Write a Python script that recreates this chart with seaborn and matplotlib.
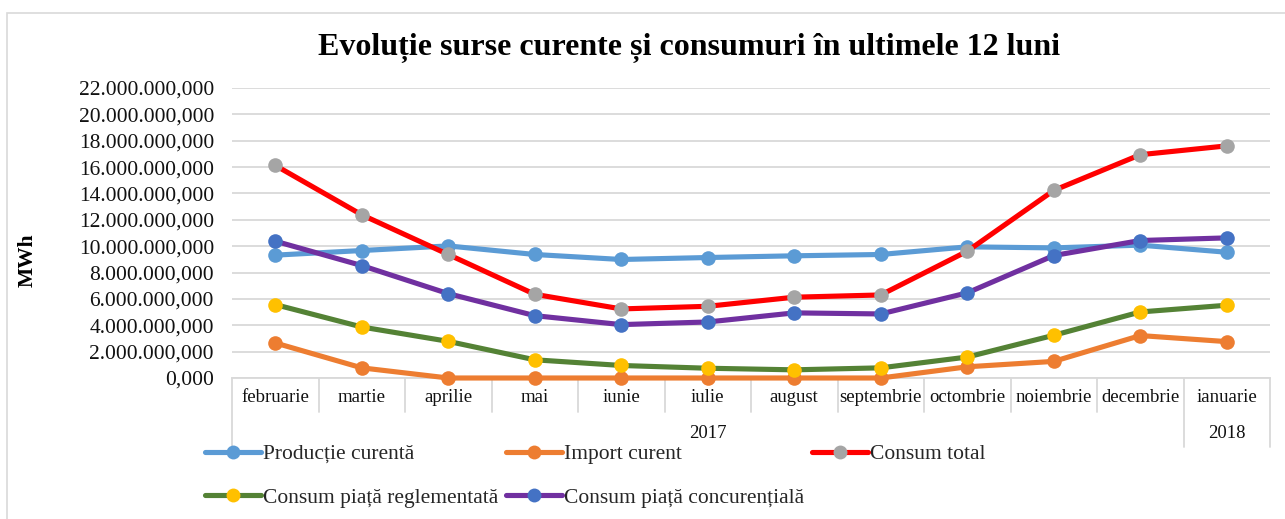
import numpy as np
import pandas as pd
import matplotlib
matplotlib.use("Agg")
import matplotlib.pyplot as plt
import matplotlib.ticker as mticker
from matplotlib.lines import Line2D
from matplotlib.patches import Rectangle
import seaborn as sns

# ---------------- data ----------------
months = ["februarie", "martie", "aprilie", "mai", "iunie", "iulie", "august",
          "septembrie", "octombrie", "noiembrie", "decembrie", "ianuarie"]
years = ["2017", "2018"]
year_spans = [(0, 10), (11, 11)]  # first/last month index of each year

productie_curenta = [9.32e6, 9.67e6, 10.02e6, 9.37e6, 8.99e6, 9.14e6, 9.27e6, 9.37e6, 9.95e6, 9.87e6, 10.08e6, 9.54e6]
import_curent = [2.66e6, 0.77e6, 0.0, 0.0, 0.0, 0.0, 0.0, 0.0, 0.85e6, 1.26e6, 3.22e6, 2.76e6]
consum_total = [16.13e6, 12.38e6, 9.37e6, 6.35e6, 5.24e6, 5.44e6, 6.13e6, 6.30e6, 9.62e6, 14.23e6, 16.94e6, 17.61e6]
consum_reglementata = [5.57e6, 3.87e6, 2.78e6, 1.38e6, 0.95e6, 0.74e6, 0.62e6, 0.77e6, 1.59e6, 3.24e6, 5.01e6, 5.52e6]
consum_concurentiala = [10.38e6, 8.53e6, 6.40e6, 4.73e6, 4.05e6, 4.25e6, 4.94e6, 4.86e6, 6.46e6, 9.29e6, 10.43e6, 10.63e6]

series_names = ["Producție curentă", "Import curent", "Consum total",
                "Consum piață reglementată", "Consum piață concurențială"]
series_values = [productie_curenta, import_curent, consum_total,
                 consum_reglementata, consum_concurentiala]
line_colors = ["#5B9BD5", "#ED7D31", "#FF0000", "#548235", "#7030A0"]
marker_colors = ["#5B9BD5", "#ED7D31", "#A5A5A5", "#FFC000", "#4472C4"]

title = "Evoluție surse curente și consumuri în ultimele 12 luni"
ylabel = "MWh"

# ---------------- style ----------------
sns.set_style("white")
plt.rcParams["font.family"] = ["Liberation Serif", "DejaVu Serif"]

W, H = 1285, 519
fig = plt.figure(figsize=(W / 100, H / 100), dpi=100)

def fx(px):
    return px / W

def fy(py):
    return 1 - py / H

ax_left, ax_right, ax_top, ax_bottom = 232, 1270, 88, 378
ax = fig.add_axes([fx(ax_left), fy(ax_bottom), fx(ax_right - ax_left), (ax_bottom - ax_top) / H])

# outer chart border
fig.patches.append(Rectangle((fx(7), -0.2), 1.2, fy(13) + 0.2, transform=fig.transFigure,
                             fill=False, edgecolor="#D9D9D9", linewidth=1.2))

xpos = np.arange(len(months))
df = pd.DataFrame({"idx": np.tile(xpos, len(series_names)),
                   "serie": np.repeat(series_names, len(months)),
                   "val": np.concatenate(series_values)})

for name, lc, mc in zip(series_names, line_colors, marker_colors):
    sub = df[df["serie"] == name]
    sns.lineplot(data=sub, x="idx", y="val", ax=ax, color=lc, linewidth=3.7,
                 marker="o", markersize=10.5, markerfacecolor=mc, markeredgecolor=mc,
                 markeredgewidth=0, legend=False, zorder=3, clip_on=False)

ax.set_xlim(-0.5, len(months) - 0.5)
ax.set_ylim(0, 22e6)
ax.set_yticks(np.arange(0, 22e6 + 1, 2e6))

def ro_fmt(v, pos):
    s = f"{v:,.3f}"
    return s.replace(",", "X").replace(".", ",").replace("X", ".")

ax.yaxis.set_major_formatter(mticker.FuncFormatter(ro_fmt))
ax.tick_params(axis="y", length=0, pad=13, labelsize=15.5, labelcolor="#111111")
ax.set_xticks(xpos)
ax.set_xticklabels(months)
ax.tick_params(axis="x", length=0, pad=8, labelsize=13.5, labelcolor="#111111")
ax.set_xlabel("")
ax.set_ylabel("")

ax.grid(axis="y", color="#D9D9D9", linewidth=1.3)
ax.grid(axis="x", visible=False)
ax.set_axisbelow(True)
for s in ["top", "right", "left"]:
    ax.spines[s].set_visible(False)
ax.spines["bottom"].set_color("#D9D9D9")
ax.spines["bottom"].set_linewidth(1.3)
ax.spines["bottom"].set_zorder(1)

# multi-level category separators
ax_h = ax_bottom - ax_top
short_y = -(412 - ax_bottom) / ax_h
long_y = -(447 - ax_bottom) / ax_h
trans = ax.get_xaxis_transform()
long_edges = {-0.5}
for (a, b) in year_spans:
    long_edges.add(b + 0.5)
for k in range(len(months) + 1):
    xe = k - 0.5
    y_end = long_y if xe in long_edges else short_y
    ax.add_line(Line2D([xe, xe], [0, y_end], transform=trans, color="#D9D9D9",
                       linewidth=1.3, clip_on=False, zorder=1))

year_y = -(433 - ax_bottom) / ax_h
for yr, (a, b) in zip(years, year_spans):
    ax.text((a + b) / 2, year_y, yr, transform=trans, ha="center", va="center",
            fontsize=13.5, color="#111111")

# title and y label
fig.text(fx(689), fy(48), title, ha="center", va="center", fontsize=23,
         fontweight="bold", color="#000000")
fig.text(fx(28), fy(260), ylabel, ha="center", va="center", rotation=90,
         fontsize=15.5, fontweight="bold", color="#000000")

# legend (row-wise order via column-major fill)
handles = [Line2D([0], [0], color=lc, linewidth=3.7, marker="o", markersize=10,
                  markerfacecolor=mc, markeredgecolor=mc, markeredgewidth=0)
           for lc, mc in zip(line_colors, marker_colors)]
order = [0, 3, 1, 4, 2]
fig.legend([handles[i] for i in order], [series_names[i] for i in order],
           loc="upper left", bbox_to_anchor=(fx(205), fy(444)), ncol=3,
           frameon=False, fontsize=15.5, handlelength=2.6, handletextpad=0.1,
           columnspacing=0.35, labelspacing=1.1, borderpad=0, borderaxespad=0)

fig.savefig("out.png", dpi=100)
